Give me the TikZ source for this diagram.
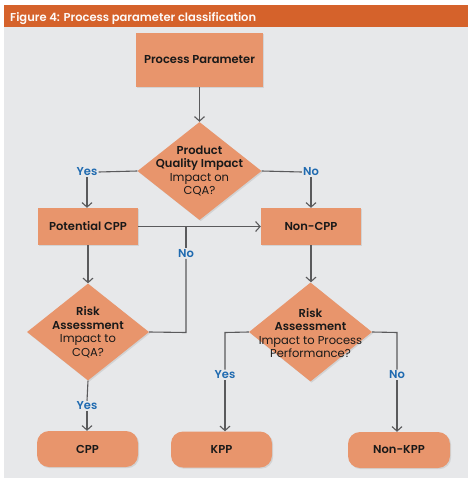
\documentclass[tikz,border=0pt]{standalone}
\usepackage{fontspec}
\setmainfont{Poppins}[BoldFont={* SemiBold}]
\usetikzlibrary{shapes.geometric,arrows.meta,shadows}
\definecolor{headbar}{HTML}{D5622B}
\definecolor{panel}{HTML}{E7E8EA}
\definecolor{boxfill}{HTML}{E8956C}
\definecolor{answer}{HTML}{1F6AB0}
\definecolor{wire}{HTML}{5A5A5C}
\newcommand{\decision}[3]{
	\node [diamond, fill=boxfill, minimum width=#2, minimum height=#3, inner sep=0pt,
		drop shadow={shadow xshift=1.2pt, shadow yshift=-1.2pt, opacity=0.2}] (#1) at (#1pos) {};
}

\begin{document}
\begin{tikzpicture}[x=1pt,y=-1pt,
	font=\fontsize{11.5}{13.5}\selectfont,
	box/.style={rectangle, fill=boxfill, text=black!90, font=\fontsize{11.5}{13.5}\selectfont\bfseries,
		drop shadow={shadow xshift=1.2pt, shadow yshift=-1.2pt, opacity=0.2}},
	endbox/.style={box, rounded corners=12pt},
	asktext/.style={align=center, text=black!90, inner sep=0pt},
	answer/.style={text=answer, font=\fontsize{11.5}{13.5}\selectfont\bfseries, inner sep=1pt},
	link/.style={draw=wire, line width=1.1pt},
	flow/.style={link, -{Straight Barb[length=4.5pt,width=10pt]}}]
	\useasboundingbox (0,0) rectangle (474,483);
	\fill[white] (0,0) rectangle (474,483);
	\fill[panel] (4,27) rectangle (468,478);
	\fill[headbar] (4,5) rectangle (468,27);
	\node [anchor=base west, text=white!96!headbar, font=\fontsize{11.5}{13}\selectfont\bfseries, inner sep=0pt] (title) at (10,21) {Figure 4: Process parameter classification};

	% boxes
	\node [box, minimum width=127pt, minimum height=54pt] (param) at (199.5,60) {Process Parameter};
	\node [box, minimum width=100pt, minimum height=37pt] (pcpp) at (88,226.5) {Potential CPP};
	\node [box, minimum width=100pt, minimum height=37pt] (ncpp) at (311,226.5) {Non-CPP};
	\node [endbox, minimum width=101pt, minimum height=36pt] (cpp) at (87.5,449) {CPP};
	\node [endbox, minimum width=101pt, minimum height=36pt] (kpp) at (221.5,449.5) {KPP};
	\node [endbox, minimum width=102pt, minimum height=36pt] (nkpp) at (399,450) {Non-KPP};

	% decisions
	\coordinate (qualitypos) at (199.5,171);
	\coordinate (riskcqapos) at (88,332);
	\coordinate (riskperfpos) at (310.5,332);
	\decision{quality}{124pt}{98pt}
	\decision{riskcqa}{122pt}{97pt}
	\decision{riskperf}{123pt}{99pt}
	\node [asktext] (qualitytext) at (quality.center) {\bfseries Product\\\bfseries Quality Impact\\Impact on\\CQA?};
	\node [asktext] (riskcqatext) at (riskcqa.center) {\bfseries Risk\\\bfseries Assessment\\Impact to\\CQA?};
	\node [asktext] (riskperftext) at ([yshift=-1pt]riskperf.center) {\bfseries Risk\\\bfseries Assessment\\Impact to Process\\Performance?};

	% answers
	\node [answer] (yes1) at (87,172) {Yes};
	\node [answer] (no1) at (311,172) {No};
	\node [answer] (no2) at (186,253.5) {No};
	\node [answer] (yes2) at (87,406) {Yes};
	\node [answer] (yes3) at (225,375) {Yes};
	\node [answer] (no3) at (397,375) {No};
	\coordinate (split) at (186,226.5);
	\coordinate (back) at (186,332.5);
	\coordinate (leftturn) at (225,332.5);
	\coordinate (rightturn) at (397,332.5);

	\draw[flow] (param) -- (quality);
	\draw[link] (quality.west) -- (yes1.east);
	\draw[flow] (yes1.south) -- (yes1.south |- pcpp.north);
	\draw[link] (quality.east) -- (no1.west);
	\draw[flow] (no1.south) -- (ncpp.north);
	\draw[flow] (pcpp.east) -- (ncpp.west);
	\draw[link] (split) -- (no2.north);
	\draw[link] (no2.south) -- (back) -- (riskcqa.east);
	\draw[flow] (pcpp.south) -- (riskcqa.north);
	\draw[flow] (ncpp.south) -- (ncpp.south |- riskperf.north);
	\draw[link] (riskcqa.south) -- (yes2.north);
	\draw[flow] (yes2.south) -- (yes2.south |- cpp.north);
	\draw[link] (riskperf.west) -- (leftturn) -- (yes3.north);
	\draw[flow] (yes3.south) -- (yes3.south |- kpp.north);
	\draw[link] (riskperf.east) -- (rightturn) -- (no3.north);
	\draw[flow] (no3.south) -- (no3.south |- nkpp.north);
\end{tikzpicture}
\end{document}
